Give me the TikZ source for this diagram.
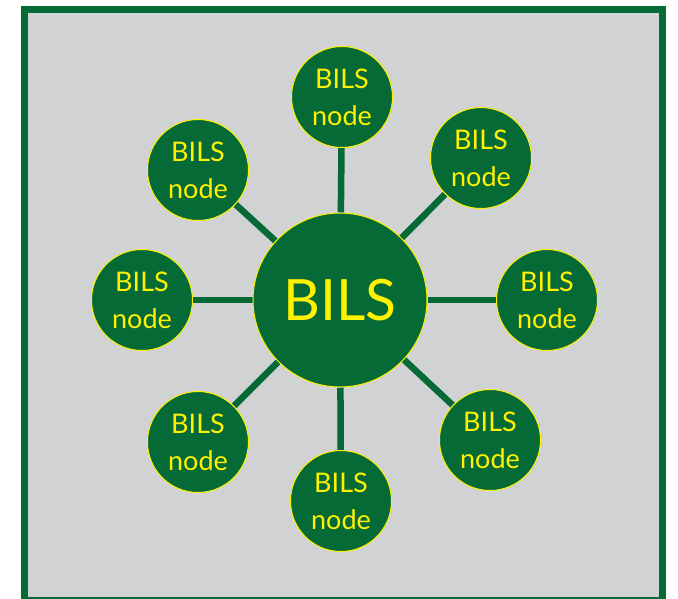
\documentclass[tikz,border=0pt]{standalone}
\usepackage{fontspec}
\setmainfont{Lato}
\usetikzlibrary{backgrounds}
\definecolor{bgreen}{HTML}{066A37}
\definecolor{bgray}{HTML}{D1D2D4}
\definecolor{byellow}{HTML}{FFF200}
\tikzset{
  hub/.style={circle, fill=bgreen, draw=byellow, line width=1pt, minimum size=174pt, inner sep=0pt, text=byellow, font=\fontsize{57}{60}\selectfont},
  leaf/.style={circle, fill=bgreen, draw=byellow, line width=1pt, minimum size=101pt, inner sep=0pt, text=byellow, align=center, font=\fontsize{27}{37}\selectfont},
  link/.style={draw=bgreen, line width=6.5pt}
}
\begin{document}
\begin{tikzpicture}[x=1pt,y=-1pt]
\useasboundingbox (0,0) rectangle (678,598);
\node[hub] (c) at (340,300) {BILS};
\node[leaf] (n1) at (342,97) {BILS\\node};
\node[leaf] (n2) at (481,158) {BILS\\node};
\node[leaf] (n3) at (547,300) {BILS\\node};
\node[leaf] (n4) at (490,440) {BILS\\node};
\node[leaf] (n5) at (341,501) {BILS\\node};
\node[leaf] (n6) at (198,442) {BILS\\node};
\node[leaf] (n7) at (142,300) {BILS\\node};
\node[leaf] (n8) at (198,170) {BILS\\node};
\begin{scope}[on background layer]
\begin{scope}
\clip (0,0) rectangle (678,598);
\draw[fill=bgray, draw=bgreen, line width=7pt] (24,9.5) rectangle (662.5,600.5);
\end{scope}
\foreach \n in {n1,n2,n3,n4,n5,n6,n7,n8} {
  \path[link] (c) -- (\n);
}
\end{scope}
\end{tikzpicture}
\end{document}
